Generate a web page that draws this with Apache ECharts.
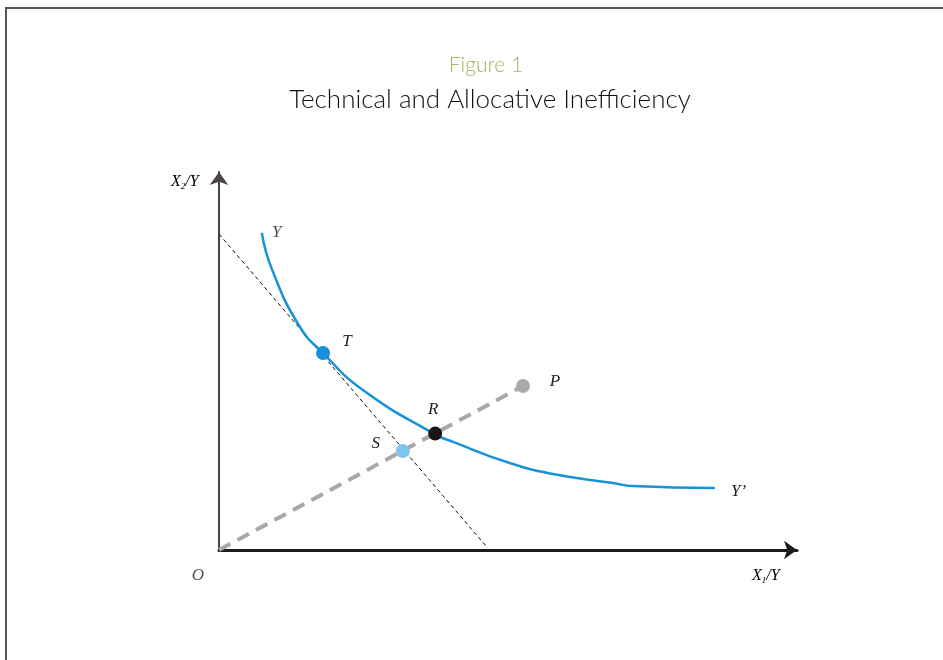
<!DOCTYPE html>
<html>
<head>
<meta charset="utf-8">
<script src="https://cdn.jsdelivr.net/npm/echarts@6/dist/echarts.min.js"></script>
<style>
  html, body { margin: 0; padding: 0; background: #fff; }
  #chart { width: 943px; height: 660px; }
</style>
</head>
<body>
<div id="chart"></div>
<script>
// isoquant YY' (x1/y, x2/y)
const isoquant = [
  [0.74, 8.39], [0.92, 7.41], [1.40, 5.90], [1.80, 5.21],
  [2.49, 4.23], [3.74, 3.06], [4.05, 2.86], [5.03, 2.30],
  [5.78, 2.01], [6.82, 1.77], [7.16, 1.69], [8.58, 1.64]
]
// isocost line
const isocost = [[0, 8.36], [4.65, 0.05]]
// ray from origin to P
const ray = [[0, 0], [5.26, 4.34]]
// labelled points
const pointT = [1.80, 5.21]
const pointR = [3.74, 3.08]
const pointS = [3.18, 2.62]
const pointP = [5.26, 4.34]

const serif = { fontFamily: 'Liberation Serif', fontStyle: 'italic', fontSize: 17, color: '#222' }

const chart = echarts.init(document.getElementById('chart'))

// a single labelled dot
const dot = (name, value, color, offset) => ({
  type: 'scatter',
  name: name,
  data: [value],
  symbolSize: 14,
  itemStyle: { color: color, opacity: 1 },
  label: { show: true, formatter: name, position: 'inside', offset: offset, ...serif },
  z: 5
})

chart.setOption({
  animation: false,
  title: [
    {
      text: 'Figure 1',
      left: 481,
      top: 50,
      textAlign: 'center',
      textStyle: { fontFamily: 'Lato', fontWeight: 300, fontSize: 21, color: '#a7b266' }
    },
    {
      text: 'Technical and Allocative Inefficiency',
      left: 485,
      top: 82,
      textAlign: 'center',
      textStyle: { fontFamily: 'Lato', fontWeight: 300, fontSize: 26, color: '#111' }
    }
  ],
  grid: { left: 219, right: 146, top: 172, bottom: 110 },
  xAxis: {
    type: 'value',
    min: 0,
    max: 10,
    axisLine: {
      show: true,
      symbol: ['none', 'arrow'],
      symbolSize: [14, 13],
      lineStyle: { color: '#1e1a18', width: 3 }
    },
    axisTick: { show: false },
    axisLabel: { show: false },
    splitLine: { show: false }
  },
  yAxis: {
    type: 'value',
    min: 0,
    max: 10,
    axisLine: {
      show: true,
      symbol: ['none', 'arrow'],
      symbolSize: [14, 13],
      lineStyle: { color: '#4a4543', width: 2 }
    },
    axisTick: { show: false },
    axisLabel: { show: false },
    splitLine: { show: false }
  },
  series: [
    {
      type: 'line',
      name: 'isocost',
      data: isocost,
      symbol: 'none',
      lineStyle: { color: '#111', width: 1, type: [4, 3] },
      z: 1
    },
    {
      type: 'line',
      name: 'ray',
      data: ray,
      symbol: 'none',
      lineStyle: { color: '#a8a8a8', width: 4, type: [13, 8] },
      z: 2
    },
    {
      type: 'line',
      name: 'isoquant',
      data: isoquant,
      smooth: 0.5,
      symbol: 'none',
      lineStyle: { color: '#1692d8', width: 2.5 },
      endLabel: { show: true, formatter: 'Y’', offset: [8, 4], ...serif },
      z: 3
    },
    {
      type: 'scatter',
      name: 'Y',
      data: [isoquant[0]],
      symbolSize: 0,
      label: { show: true, formatter: 'Y', position: 'inside', offset: [15, 0], ...serif }
    },
    {
      type: 'scatter',
      name: 'O',
      data: [[0, 0]],
      symbolSize: 0,
      label: { show: true, formatter: 'O', position: 'inside', offset: [-21, 26], ...serif }
    },
    dot('T', pointT, '#1a8fd8', [24, -12]),
    dot('R', pointR, '#1a1616', [-2, -24]),
    dot('S', pointS, '#7cc6ee', [-27, -7]),
    dot('P', pointP, '#aaaaaa', [32, -4])
  ],
  graphic: [
    {
      type: 'rect',
      shape: { x: 6, y: 8, width: 1200, height: 1200 },
      style: { fill: 'none', stroke: '#555', lineWidth: 2 },
      silent: true
    },
    {
      type: 'text',
      x: 171,
      y: 173,
      style: {
        text: '{a|X}{s|2}{a|/Y}',
        rich: {
          a: { ...serif, fontSize: 16, lineHeight: 18 },
          s: { ...serif, fontSize: 9, lineHeight: 8, verticalAlign: 'bottom' }
        }
      }
    },
    {
      type: 'text',
      x: 752,
      y: 567,
      style: {
        text: '{a|X}{s|1}{a|/Y}',
        rich: {
          a: { ...serif, fontSize: 16, lineHeight: 18 },
          s: { ...serif, fontSize: 9, lineHeight: 8, verticalAlign: 'bottom' }
        }
      }
    }
  ]
})
</script>
</body>
</html>
